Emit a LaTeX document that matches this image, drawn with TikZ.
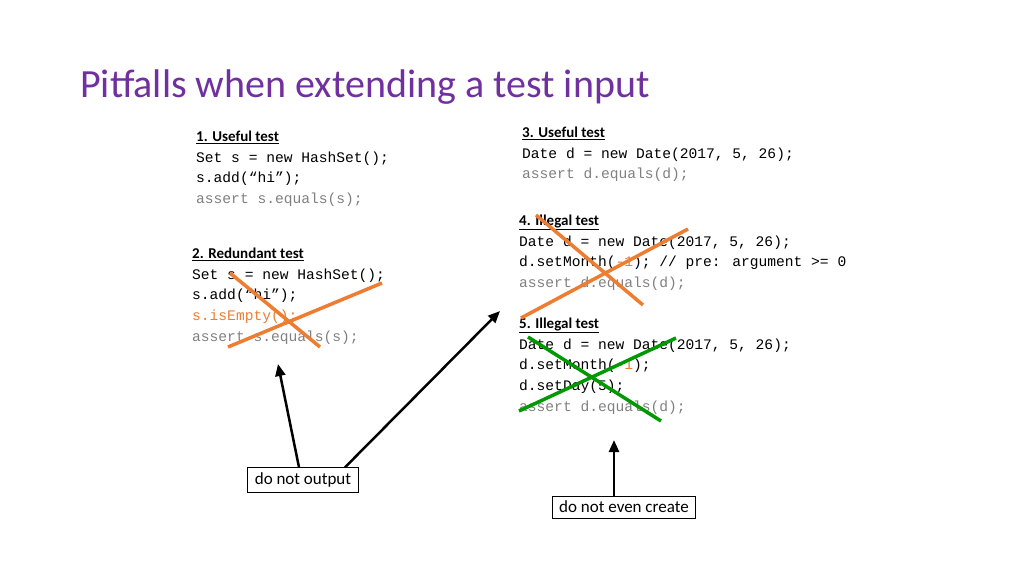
\documentclass[tikz,border=0pt]{standalone}
\usepackage{fontspec}
\setmainfont{Carlito}
\newfontfamily\codefont{Liberation Mono}[Scale=1]
\usetikzlibrary{arrows.meta}
\definecolor{ttl}{HTML}{7030A0}
\definecolor{cgray}{HTML}{808080}
\definecolor{corange}{HTML}{ED7D31}
\definecolor{cgreen}{HTML}{009900}
\begin{document}
\begin{tikzpicture}[x=1pt,y=-1pt,
  code/.style={anchor=north west,inner sep=0pt,align=left,font=\codefont\fontsize{14.6}{20.6}\selectfont},
  hdr/.style={font=\bfseries\fontsize{15}{18}\selectfont},
  cross/.style={line width=3.5pt},
  lbl/.style={draw,line width=0.8pt,inner xsep=7pt,inner ysep=5pt,font=\fontsize{17}{20}\selectfont},
  arr/.style={line width=2.5pt,-{Triangle[length=12pt,width=10pt]}}]
\useasboundingbox (0,0) rectangle (1024,576);
\node[anchor=west,inner sep=0pt,text=ttl,font=\fontsize{40}{44}\selectfont] (title) at (80,87) {Pitfalls when extending a test input};
\node[code] (b1) at (196,131) {\underline{\rmfamily\bfseries\fontsize{15}{18}\selectfont 1. Useful test}\\Set s = new HashSet();\\s.add(“hi”);\\\textcolor{cgray}{assert s.equals(s);}};
\node[code] (b3) at (522,127) {\underline{\rmfamily\bfseries\fontsize{15}{18}\selectfont 3. Useful test}\\Date d = new Date(2017, 5, 26);\\\textcolor{cgray}{assert d.equals(d);}};
\node[code] (b4) at (519,215) {\underline{\rmfamily\bfseries\fontsize{15}{18}\selectfont 4. Illegal test}\\Date d = new Date(2017, 5, 26);\\d.setMonth(\textcolor{corange}{-1}); // pre: argument >= 0\\\textcolor{cgray}{assert d.equals(d);}};
\node[code] (b2) at (192,248) {\underline{\rmfamily\bfseries\fontsize{15}{18}\selectfont 2. Redundant test}\\Set s = new HashSet();\\s.add(“hi”);\\\textcolor{corange}{s.isEmpty();}\\\textcolor{cgray}{assert s.equals(s);}};
\node[code] (b5) at (519,318) {\underline{\rmfamily\bfseries\fontsize{15}{18}\selectfont 5. Illegal test}\\Date d = new Date(2017, 5, 26);\\d.setMonth(\textcolor{corange}{-1});\\d.setDay(5);\\\textcolor{cgray}{assert d.equals(d);}};
\draw[cross,corange] (230,273) -- (320,347);
\draw[cross,corange] (228,347) -- (382,283);
\draw[cross,corange] (536,215) -- (643,305);
\draw[cross,corange] (521,318) -- (688,229);
\draw[cross,cgreen] (528,337) -- (661,421);
\draw[cross,cgreen] (519,411) -- (676,338);
\node[lbl] (o) at (303,480) {do not output};
\node[lbl] (c) at (624,507) {do not even create};
\coordinate (t2) at (278,364);
\coordinate (t4) at (500,311);
\coordinate (t5) at (614,440);
\draw[arr] ([xshift=-4pt]o.north) -- (t2);
\draw[arr] ([xshift=42pt]o.north) -- (t4);
\draw[arr] ([xshift=-10pt]c.north) -- (t5);
\end{tikzpicture}
\end{document}
